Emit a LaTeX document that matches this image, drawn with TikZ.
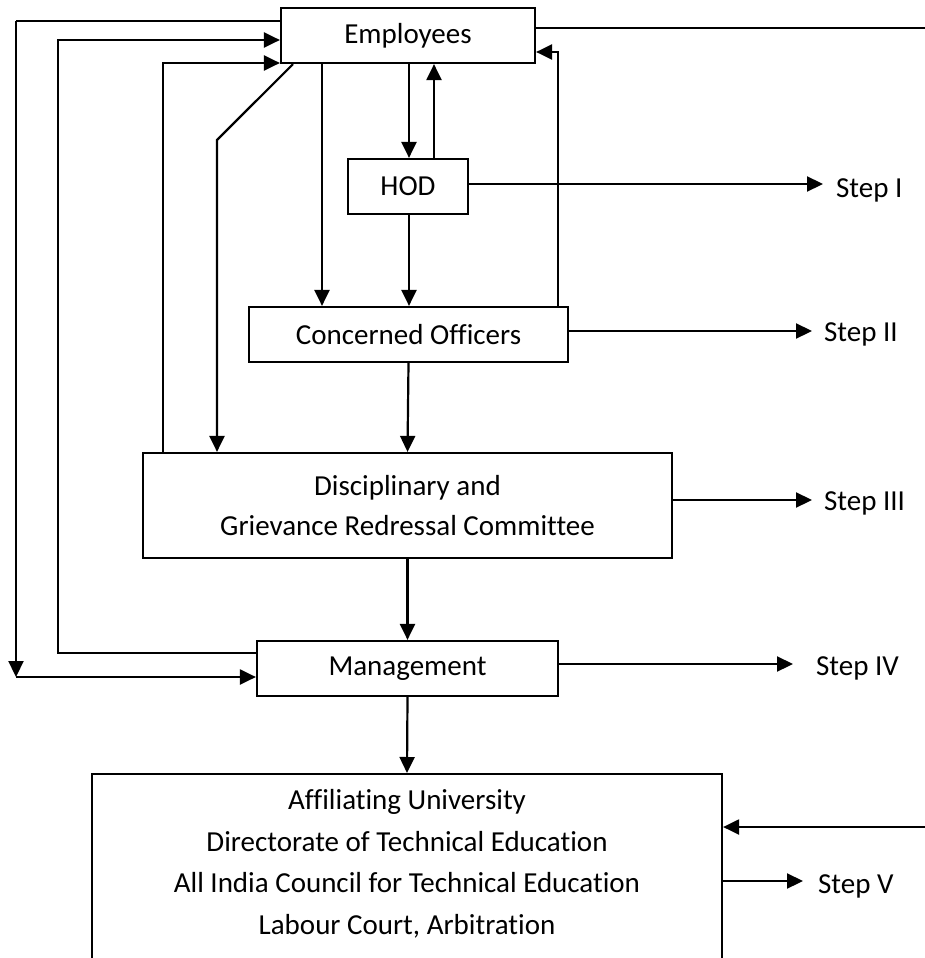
\documentclass[tikz,border=0pt]{standalone}
\usepackage{fontspec}
\setmainfont{Carlito}[Ligatures=NoCommon]
\usetikzlibrary{arrows.meta}
\begin{document}
\begin{tikzpicture}[x=1pt,y=-1pt,line width=2.2pt,
  box/.style={draw,line width=2.2pt,inner sep=0pt,align=center,font=\fontsize{29}{40}\selectfont},
  txt/.style={inner sep=0pt,align=center,font=\fontsize{29}{41.5}\selectfont},
  arr/.style={-{Triangle[length=16pt,width=15pt]}},
  lbl/.style={anchor=base west,inner sep=0pt,font=\fontsize{29}{35}\selectfont}]
\clip (0,0) rectangle (925,958);
% boxes
\node[box,minimum width=254pt,minimum height=55pt] (emp) at (408,35.5) {Employees};
\node[box,minimum width=120pt,minimum height=55pt] (hod) at (408,186.5) {HOD};
\node[box,minimum width=319pt,minimum height=55pt] (co) at (408.5,334.5) {Concerned Officers};
\node[box,minimum width=529pt,minimum height=105pt] (dg) at (407.5,505.5) {Disciplinary and\\Grievance Redressal Committee};
\node[box,minimum width=301pt,minimum height=55pt] (mg) at (407.5,668.5) {Management};
\node[box,minimum width=630pt,minimum height=240pt,anchor=north] (uni) at (407,773) {};
\node[txt] (unitxt) at (407,864) {Affiliating University\\Directorate of Technical Education\\All India Council for Technical Education\\Labour Court, Arbitration};
% step labels
\node[lbl] (s1) at (835,197) {Step I};
\node[lbl] (s2) at (823,341) {Step II};
\node[lbl] (s3) at (823,510) {Step III};
\node[lbl] (s4) at (815,675) {Step IV};
\node[lbl] (s5) at (817,893) {Step V};
% helper coordinates
\coordinate (p1) at (16,21);
\coordinate (p2) at (16,677);
\coordinate (p3) at (58,653);
\coordinate (p4) at (58,40);
\coordinate (p5) at (163,63);
\coordinate (p6) at (293,0);
\coordinate (p7) at (217,140);
\coordinate (p9) at (558,52);
\coordinate (x322) at (322,0);
\coordinate (x409) at (409,0);
\coordinate (x434) at (434,0);
\coordinate (e1) at (925,28);
\coordinate (e2) at (925,827);
\coordinate (t1) at (823,184);
\coordinate (t2) at (812,331);
\coordinate (t3) at (812,500);
\coordinate (t4) at (793,664);
\coordinate (t5) at (803,881);
% connectors on the left
\draw (emp.west |- p1) -- (p1);
\draw[arr] (p1) -- (p2);
\draw[arr] (p2) -- (mg.west |- p2);
\draw[arr] (mg.west |- p3) -- (p3) -- (p4) -- (emp.west |- p4);
\draw[arr] (dg.north -| p5) -- (p5) -- (emp.west |- p5);
\draw[arr] (emp.south -| p6) -- (p7) -- (dg.north -| p7);
% central connectors
\draw[arr] (emp.south -| x322) -- (co.north -| x322);
\draw[arr] (emp.south -| x409) -- (hod.north -| x409);
\draw[arr] (hod.north -| x434) -- (emp.south -| x434);
\draw[arr] (hod.south -| x409) -- (co.north -| x409);
\draw[arr] (co.north -| p9) -- (p9) -- (emp.east |- p9);
\draw (emp.east |- e1) -- (e1);
\draw[arr] (co.south) -- (dg.north);
\draw[arr] (dg.south) -- (mg.north);
\draw[arr] (mg.south) -- (uni.north);
\draw[arr] (e2) -- (uni.east |- e2);
% step arrows
\draw[arr] (hod.east |- t1) -- (t1);
\draw[arr] (co.east |- t2) -- (t2);
\draw[arr] (dg.east |- t3) -- (t3);
\draw[arr] (mg.east |- t4) -- (t4);
\draw[arr] (uni.east |- t5) -- (t5);
\end{tikzpicture}
\end{document}
